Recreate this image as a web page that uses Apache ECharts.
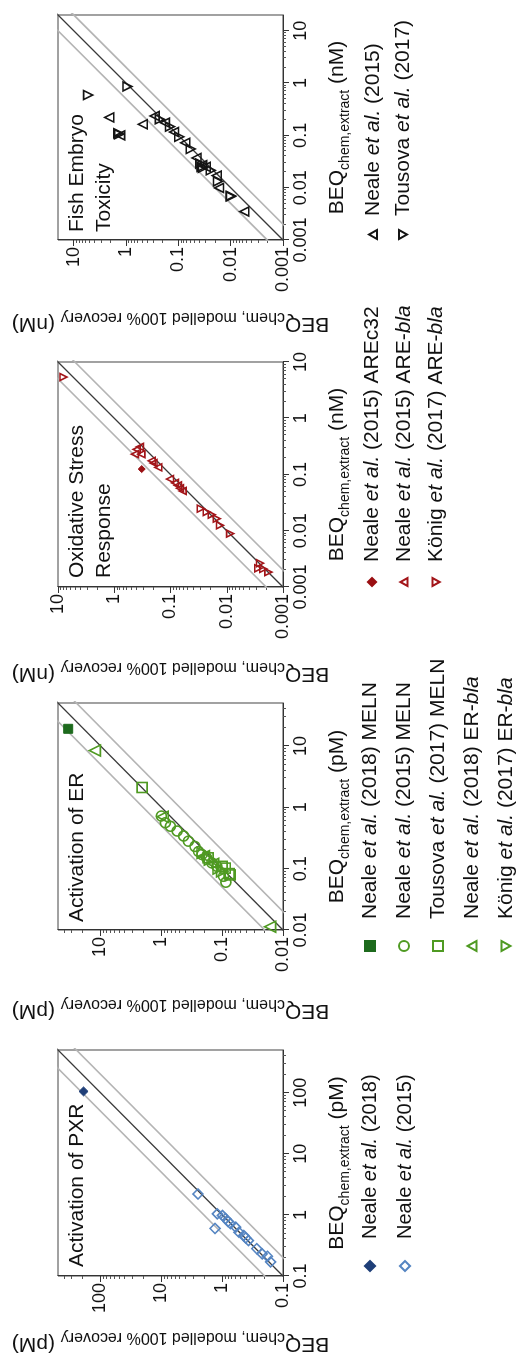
<!DOCTYPE html>
<html><head><meta charset="utf-8">
<script src="https://cdn.jsdelivr.net/npm/echarts@6/dist/echarts.min.js"></script>
<style>
html,body{margin:0;padding:0;background:#fff;overflow:hidden;width:521px;height:1361px;}
#wrap{position:absolute;left:0;top:0;width:1361px;height:521px;transform-origin:0 0;transform:translate(0,1361px) rotate(-90deg);background:#fff;}
</style></head><body><div id="wrap"></div>
<script>
const FONT = '"Liberation Sans", Arial, Helvetica, sans-serif';

// ---- axis ranges and tick labels
const pxrRange = [0.1, 500];
const erRange = [0.01, 50];
const oxRange = [0.001, 10];
const fetRange = [0.001, 20];
const pxrTicks = [0.1, 1, 10, 100];
const pxrTickLabels = ['0.1', '1', '10', '100'];
const erTicks = [0.01, 0.1, 1, 10];
const erTickLabels = ['0.01', '0.1', '1', '10'];
const oxTicks = [0.001, 0.01, 0.1, 1, 10];
const oxTickLabels = ['0.001', '0.01', '0.1', '1', '10'];
const fetTicks = [0.001, 0.01, 0.1, 1, 10];
const fetTickLabels = ['0.001', '0.01', '0.1', '1', '10'];

// ---- reference lines (1:1 and factor-of-two)
const lineOneToOne = [[1e-5, 1e-5], [1e5, 1e5]];
const lineTwoFoldUp = [[1e-5, 2e-5], [1e5, 2e5]];
const lineTwoFoldDown = [[1e-5, 5e-6], [1e5, 5e4]];

// ---- data: [BEQ chem,extract , BEQ chem,modelled 100% recovery]
const pxrNeale2018 = [[105, 190]];
const pxrNeale2015 = [[2.2, 2.5], [0.60, 1.31], [1.04, 1.20], [0.98, 0.99], [0.87, 0.88], [0.78, 0.80], [0.72, 0.73],
  [0.63, 0.60], [0.52, 0.53], [0.46, 0.44], [0.42, 0.41], [0.38, 0.37], [0.28, 0.27], [0.23, 0.22], [0.21, 0.18], [0.17, 0.16]];

const erNeale2018MELN = [[19, 34]];
const erNeale2015MELN = [[0.72, 1.0], [0.56, 0.86], [0.49, 0.71], [0.41, 0.55], [0.34, 0.43], [0.28, 0.36], [0.23, 0.28],
  [0.19, 0.245], [0.17, 0.215], [0.15, 0.18], [0.124, 0.148], [0.109, 0.122], [0.075, 0.095], [0.06, 0.087]];
const erTousova2017MELN = [[2.1, 2.07], [0.109, 0.10], [0.102, 0.089], [0.083, 0.077], [0.079, 0.074], [0.15, 0.17]];
const erNeale2018bla = [[8.4, 12.4], [0.0113, 0.0163], [0.7, 0.95], [0.16, 0.2], [0.12, 0.14]];
const erKonig2017bla = [[0.18, 0.21], [0.14, 0.16], [0.1, 0.115], [0.09, 0.1]];

const oxNeale2015c32 = [[0.125, 0.325]];
const oxNeale2015bla = [[0.28, 0.40], [0.23, 0.33], [0.23, 0.43], [0.31, 0.35], [0.16, 0.20], [0.134, 0.165], [0.175, 0.216],
  [0.083, 0.102], [0.071, 0.083], [0.057, 0.068], [0.051, 0.061], [0.064, 0.074]];
const oxKonig2017bla = [[5.4, 8.0], [0.0247, 0.029], [0.0215, 0.0227], [0.0193, 0.0185], [0.0164, 0.0151], [0.0125, 0.0132],
  [0.0089, 0.0087], [0.00265, 0.00256], [0.0021, 0.00224], [0.00184, 0.00182], [0.00215, 0.00275]];

const fetNeale2015 = [[0.22, 2.1], [0.163, 0.48], [0.235, 0.284], [0.175, 0.181], [0.116, 0.121], [0.072, 0.074], [0.037, 0.045],
  [0.025, 0.030], [0.017, 0.0185], [0.0099, 0.0167], [0.0035, 0.0055], [0.1, 1.3], [0.027, 0.035]];
const fetTousova2017 = [[0.86, 0.94], [0.59, 5.3], [0.203, 0.226], [0.147, 0.145], [0.094, 0.096], [0.055, 0.058], [0.029, 0.038],
  [0.0215, 0.024], [0.0132, 0.0175], [0.0068, 0.0099], [0.105, 1.36], [0.11, 1.4], [0.025, 0.036], [0.024, 0.034], [0.007, 0.01]];

// ---- symbols
const UP = 'path://M5,0L10,9L0,9Z';
const DOWN = 'path://M0,0L10,0L5,9Z';

const panels = [
  { title: 'Activation of PXR', unit: 'pM', range: pxrRange, ticks: pxrTicks, labels: pxrTickLabels,
    left: 85, width: 226, yGap: 55, titleLeft: 94, legLeft: 89, legIcon: 10, legPad: 17, legTop: 359, legGap: 13, legFont: 20,
    series: [
      { name: 'Neale et al. (2018)#pxr', data: pxrNeale2018, symbol: 'diamond', size: 9, color: '#1f3f78', filled: true },
      { name: 'Neale et al. (2015)#pxr', data: pxrNeale2015, symbol: 'diamond', size: 10, color: '#5585c2', filled: false }] },
  { title: 'Activation of ER', unit: 'pM', range: erRange, ticks: erTicks, labels: erTickLabels,
    left: 431, width: 227, yGap: 68, titleLeft: 439, legLeft: 409, legIcon: 10, legPad: 17, legTop: 359, legGap: 12, legFont: 21,
    series: [
      { name: 'Neale et al. (2018) MELN', data: erNeale2018MELN, symbol: 'rect', size: 9, color: '#1d6a1d', filled: true },
      { name: 'Neale et al. (2015) MELN', data: erNeale2015MELN, symbol: 'circle', size: 10, color: '#4f9a22', filled: false },
      { name: 'Tousova et al. (2017) MELN', data: erTousova2017MELN, symbol: 'rect', size: 10, color: '#4f9a22', filled: false },
      { name: 'Neale et al. (2018) ER-bla', data: erNeale2018bla, symbol: UP, size: 11, color: '#4f9a22', filled: false },
      { name: 'König et al. (2017) ER-bla', data: erKonig2017bla, symbol: DOWN, size: 11, color: '#4f9a22', filled: false }] },
  { title: 'Oxidative Stress\nResponse', unit: 'nM', range: oxRange, ticks: oxTicks, labels: oxTickLabels,
    left: 774, width: 225, yGap: 74, titleLeft: 783, legLeft: 774, legIcon: 8, legPad: 11, legTop: 361, legGap: 10, legFont: 21,
    series: [
      { name: 'Neale et al. (2015) AREc32', data: oxNeale2015c32, symbol: 'diamond', size: 7, color: '#9a0f12', filled: true },
      { name: 'Neale et al. (2015) ARE-bla', data: oxNeale2015bla, symbol: UP, size: 7, color: '#a3161a', filled: false },
      { name: 'König et al. (2017) ARE-bla', data: oxKonig2017bla, symbol: DOWN, size: 7, color: '#a3161a', filled: false }] },
  { title: 'Fish Embryo\nToxicity', unit: 'nM', range: fetRange, ticks: fetTicks, labels: fetTickLabels,
    left: 1121, width: 225, yGap: 71, titleLeft: 1129, legLeft: 1121, legIcon: 9, legPad: 9, legTop: 362, legGap: 8, legFont: 21,
    series: [
      { name: 'Neale et al. (2015)#fet', data: fetNeale2015, symbol: UP, size: 9, color: '#151515', filled: false },
      { name: 'Tousova et al. (2017)#fet', data: fetTousova2017, symbol: DOWN, size: 9, color: '#151515', filled: false }] }
];

function minorTicks(range) {
  const out = [];
  const e0 = Math.floor(Math.log10(range[0])), e1 = Math.ceil(Math.log10(range[1]));
  for (let e = e0; e <= e1; e++) for (let m = 2; m <= 9; m++) {
    const v = Number((m * Math.pow(10, e)).toPrecision(6));
    if (v > range[0] && v < range[1]) out.push(v);
  }
  return out;
}
function labelFor(ticks, labels) {
  return function (v) {
    for (let i = 0; i < ticks.length; i++) if (Math.abs(Math.log10(v) - Math.log10(ticks[i])) < 1e-6) return labels[i];
    return '';
  };
}
function legendName(n) {
  return '{g| }' + n.replace(/#.*$/, '').replace('et al.', '{i|et al.}').replace('-bla', '-{i|bla}');
}
const xNameRich = {
  b: { fontSize: 21, fontFamily: FONT, color: '#111', lineHeight: 23, verticalAlign: 'top' },
  s: { fontSize: 14, fontFamily: FONT, color: '#111', lineHeight: 15, verticalAlign: 'top', padding: [11, 0, 0, 0] }
};
const yNameRich = {
  b: { fontSize: 21, fontFamily: FONT, color: '#111', lineHeight: 23, verticalAlign: 'top' },
  s: { fontSize: 16, fontFamily: FONT, color: '#111', lineHeight: 17, verticalAlign: 'top', padding: [9, 0, 0, 0] }
};

const option = { animation: false, backgroundColor: '#fff', grid: [], xAxis: [], yAxis: [], series: [], title: [], legend: [] };
const GRID_TOP = 58, GRID_H = 225;

panels.forEach((p, i) => {
  option.grid.push({ left: p.left, top: GRID_TOP, width: p.width, height: GRID_H, show: true, borderColor: '#444', borderWidth: 1, backgroundColor: 'transparent' });
  const fmt = labelFor(p.ticks, p.labels);
  const minors = minorTicks(p.range);
  const common = { type: 'log', logBase: 10, gridIndex: i, min: p.range[0], max: p.range[1], splitLine: { show: false } };
  option.xAxis.push(Object.assign({}, common, {
    position: 'bottom',
    axisLine: { show: true, onZero: false, lineStyle: { color: '#333', width: 1 } },
    axisTick: { show: true, customValues: p.ticks, length: 6, lineStyle: { color: '#333' } },
    axisLabel: { customValues: p.ticks, formatter: fmt, fontSize: 18, fontFamily: FONT, color: '#111', margin: 9 },
    name: '{b|BEQ}{s|chem,extract}{b| (' + p.unit + ')}', nameLocation: 'middle', nameGap: 44,
    nameTextStyle: { rich: xNameRich }
  }));
  option.xAxis.push(Object.assign({}, common, {
    position: 'bottom', axisLine: { show: false },
    axisTick: { show: true, customValues: minors, length: 3, lineStyle: { color: '#555' } },
    axisLabel: { show: false }
  }));
  option.yAxis.push(Object.assign({}, common, {
    position: 'left',
    axisLine: { show: true, onZero: false, lineStyle: { color: '#333', width: 1 } },
    axisTick: { show: true, customValues: p.ticks, length: 6, lineStyle: { color: '#333' } },
    axisLabel: { customValues: p.ticks, formatter: fmt, fontSize: 18, fontFamily: FONT, color: '#111', margin: 7 },
    name: '{b|BEQ}{s|chem, modelled 100% recovery}{b| (' + p.unit + ')}', nameLocation: 'middle', nameGap: p.yGap, nameRotate: 90,
    nameTextStyle: { rich: yNameRich }
  }));
  option.yAxis.push(Object.assign({}, common, {
    position: 'left', axisLine: { show: false },
    axisTick: { show: true, customValues: minors, length: 3, lineStyle: { color: '#555' } },
    axisLabel: { show: false }
  }));
  const xi = 2 * i, yi = 2 * i;
  [[lineTwoFoldUp, '#b4b4b4', 1.6], [lineTwoFoldDown, '#b4b4b4', 1.6], [lineOneToOne, '#3a3a3a', 1.3]].forEach(l => {
    option.series.push({ type: 'line', xAxisIndex: xi, yAxisIndex: yi, data: l[0], symbol: 'none', clip: true,
      lineStyle: { color: l[1], width: l[2] }, silent: true, z: 1 });
  });
  p.series.forEach(s => {
    option.series.push({
      type: 'scatter', name: s.name, xAxisIndex: xi, yAxisIndex: yi, data: s.data, symbol: s.symbol, symbolSize: s.size, z: 3,
      itemStyle: s.filled ? { color: s.color, borderColor: s.color, borderWidth: 1, opacity: 1 }
        : { color: 'rgba(255,255,255,0)', borderColor: s.color, borderWidth: 1.6, opacity: 1 }
    });
  });
  option.title.push({ text: p.title, left: p.titleLeft, top: 64, padding: 0,
    textStyle: { fontSize: 21, fontWeight: 'normal', fontFamily: FONT, color: '#111', lineHeight: 27 } });
  option.legend.push({
    data: p.series.map(s => s.name), orient: 'vertical', left: p.legLeft, top: p.legTop, itemGap: p.legGap,
    itemWidth: p.legIcon, itemHeight: p.legIcon, selectedMode: false, padding: 0,
    formatter: legendName,
    textStyle: { fontSize: p.legFont, fontFamily: FONT, color: '#111', lineHeight: 22,
      rich: {
        g: { width: p.legPad, fontSize: p.legFont, lineHeight: 22 },
        i: { fontStyle: 'italic', fontSize: p.legFont, fontFamily: FONT, color: '#111', lineHeight: 22 } } }
  });
});

const chart = echarts.init(document.getElementById('wrap'), null, { renderer: 'canvas', width: 1361, height: 521 });
chart.setOption(option);
</script></body></html>
